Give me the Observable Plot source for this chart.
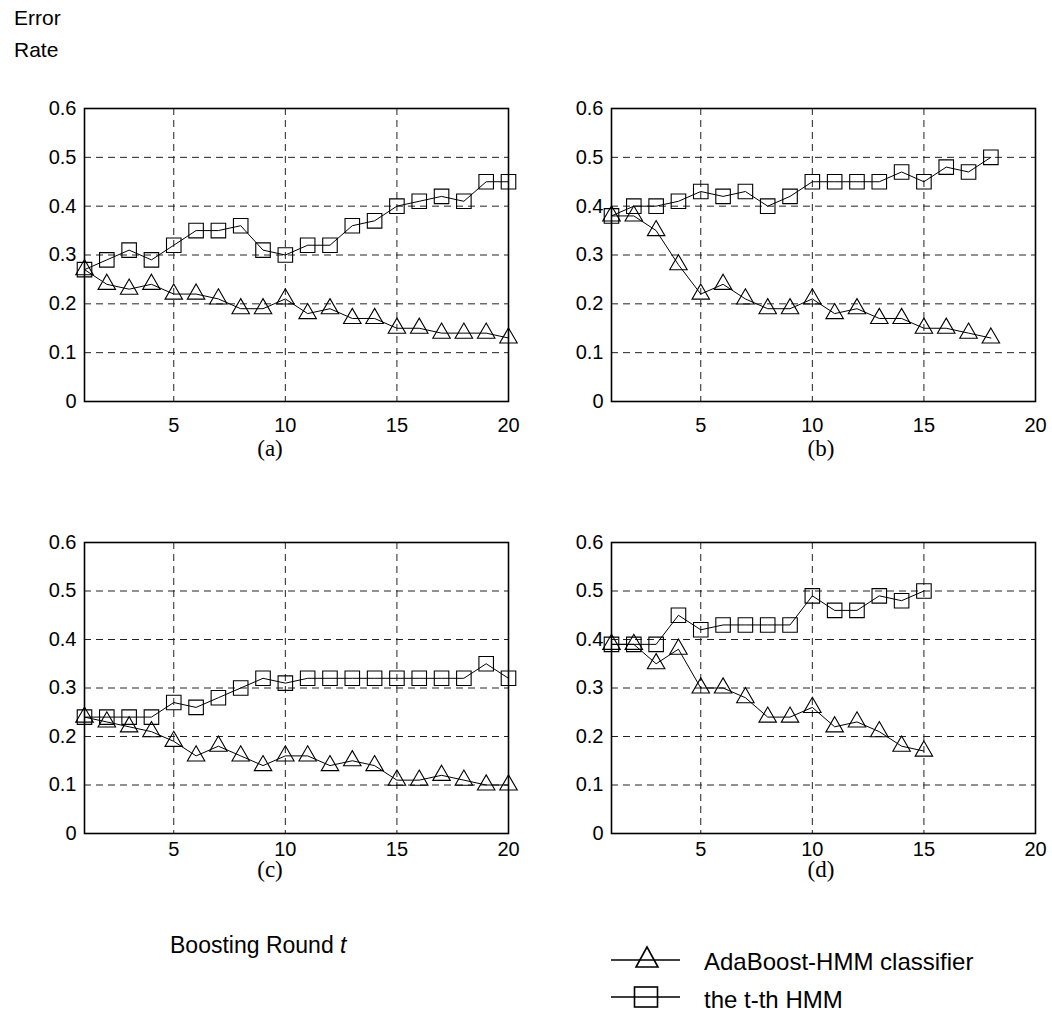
<!DOCTYPE html>
<html>
<head>
<meta charset="utf-8">
<script src="https://cdn.jsdelivr.net/npm/d3@7"></script>
<script src="https://cdn.jsdelivr.net/npm/@observablehq/plot@0.6"></script>
<style>
  html, body { margin: 0; padding: 0; background: #fff; }
  #page { position: relative; width: 1052px; height: 1023px; overflow: hidden; font-family: "Liberation Sans", Arial, sans-serif; color: #000; }
  .abs { position: absolute; }
  .lbl { position: absolute; font-size: 21px; line-height: 1; white-space: nowrap; }
  .big { font-size: 23px; }
  .leg { font-size: 24px; }
  .cap { position: absolute; font-family: "Liberation Serif", "Times New Roman", serif; font-size: 23px; line-height: 1; transform: translateX(-50%); }
</style>
</head>
<body>
<div id="page">
  <div class="lbl" style="left:14px; top:7px;">Error</div>
  <div class="lbl" style="left:14px; top:39px;">Rate</div>
  <div class="cap" style="left:270px; top:437px;">(a)</div>
  <div class="cap" style="left:821px; top:437px;">(b)</div>
  <div class="cap" style="left:270px; top:858px;">(c)</div>
  <div class="cap" style="left:821px; top:858px;">(d)</div>
  <div class="lbl big" style="left:170px; top:934px;">Boosting Round <i>t</i></div>
  <div class="lbl leg" style="left:704px; top:950px;" id="leg1"></div>
  <div class="lbl leg" style="left:704px; top:988px;" id="leg2"></div>
  <svg class="abs" style="left:600px; top:940px;" width="100" height="80" id="legsvg">
    <line x1="11" x2="80" y1="20" y2="20" stroke="#000" stroke-width="1.6"/>
    <polygon points="47,7 36,27 58,27" fill="none" stroke="#000" stroke-width="1.6"/>
    <line x1="11" x2="80" y1="57" y2="57" stroke="#000" stroke-width="1.6"/>
    <rect x="34.5" y="47" width="23" height="20" fill="none" stroke="#000" stroke-width="1.6"/>
  </svg>
</div>
<script>
// ---- data ----
const seriesNames = ["AdaBoost-HMM classifier", "the t-th HMM"];
const xTicks = [5, 10, 15, 20];
const yTicks = [0, 0.1, 0.2, 0.3, 0.4, 0.5, 0.6];
const xGrid = [5, 10, 15];
const yGrid = [0.1, 0.2, 0.3, 0.4, 0.5];

// panel (a): rounds 1..20
const adaA = [0.27, 0.24, 0.23, 0.24, 0.22, 0.22, 0.21, 0.19, 0.19, 0.21, 0.18, 0.19, 0.17, 0.17, 0.15, 0.15, 0.14, 0.14, 0.14, 0.13];
const hmmA = [0.27, 0.29, 0.31, 0.29, 0.32, 0.35, 0.35, 0.36, 0.31, 0.30, 0.32, 0.32, 0.36, 0.37, 0.40, 0.41, 0.42, 0.41, 0.45, 0.45];
// panel (b): rounds 1..18
const adaB = [0.38, 0.38, 0.35, 0.28, 0.22, 0.24, 0.21, 0.19, 0.19, 0.21, 0.18, 0.19, 0.17, 0.17, 0.15, 0.15, 0.14, 0.13];
const hmmB = [0.38, 0.40, 0.40, 0.41, 0.43, 0.42, 0.43, 0.40, 0.42, 0.45, 0.45, 0.45, 0.45, 0.47, 0.45, 0.48, 0.47, 0.50];
// panel (c): rounds 1..20
const adaC = [0.24, 0.23, 0.22, 0.21, 0.19, 0.16, 0.18, 0.16, 0.14, 0.16, 0.16, 0.14, 0.15, 0.14, 0.11, 0.11, 0.12, 0.11, 0.10, 0.10];
const hmmC = [0.24, 0.24, 0.24, 0.24, 0.27, 0.26, 0.28, 0.30, 0.32, 0.31, 0.32, 0.32, 0.32, 0.32, 0.32, 0.32, 0.32, 0.32, 0.35, 0.32];
// panel (d): rounds 1..15
const adaD = [0.39, 0.39, 0.35, 0.38, 0.30, 0.30, 0.28, 0.24, 0.24, 0.26, 0.22, 0.23, 0.21, 0.18, 0.17];
const hmmD = [0.39, 0.39, 0.39, 0.45, 0.42, 0.43, 0.43, 0.43, 0.43, 0.49, 0.46, 0.46, 0.49, 0.48, 0.50];

document.getElementById("leg1").textContent = seriesNames[0];
document.getElementById("leg2").textContent = seriesNames[1];

const toRows = arr => arr.map((v, i) => ({t: i + 1, v}));

function panel(ada, hmm, frameH, xPad) {
  const mL = 60, mR = 20, mT = 15, mB = 35;
  const fw = 424;
  return Plot.plot({
    width: mL + fw + mR,
    height: mT + frameH + mB,
    marginLeft: mL, marginRight: mR, marginTop: mT, marginBottom: mB,
    style: {fontFamily: "'Liberation Sans', Arial, sans-serif", fontSize: "20px", background: "transparent", color: "#000"},
    x: {domain: [1, 20]},
    y: {domain: [0, 0.6]},
    marks: [
      Plot.ruleY(yGrid, {stroke: "#222", strokeWidth: 1, strokeDasharray: "7,5"}),
      Plot.ruleX(xGrid, {stroke: "#222", strokeWidth: 1, strokeDasharray: "7,5"}),
      Plot.axisX({ticks: xTicks, tickSize: 0, tickPadding: xPad, label: null, fontSize: 20}),
      Plot.axisY({ticks: yTicks, tickSize: 0, tickPadding: 8, label: null, fontSize: 20, tickFormat: d => String(d)}),
      Plot.line(toRows(hmm), {x: "t", y: "v", stroke: "#000", strokeWidth: 1}),
      Plot.dot(toRows(hmm), {x: "t", y: "v", symbol: "square", r: 8.2, stroke: "#000", fill: "none", strokeWidth: 1.1}),
      Plot.line(toRows(ada), {x: "t", y: "v", stroke: "#000", strokeWidth: 1}),
      Plot.dot(toRows(ada), {x: "t", y: "v", symbol: "triangle", r: 6.5, stroke: "#000", fill: "none", strokeWidth: 1.1}),
      Plot.frame({stroke: "#000", strokeWidth: 1.6})
    ]
  });
}

const page = document.getElementById("page");
const specs = [
  [adaA, hmmA, 293, 16, 24, 93],
  [adaB, hmmB, 293, 16, 551, 93],
  [adaC, hmmC, 291, 8, 24, 527],
  [adaD, hmmD, 291, 8, 551, 527]
];
for (const [a, h, fh, pad, left, top] of specs) {
  const svg = panel(a, h, fh, pad);
  svg.style.position = "absolute";
  svg.style.left = left + "px";
  svg.style.top = top + "px";
  page.appendChild(svg);
}
</script>
</body>
</html>
